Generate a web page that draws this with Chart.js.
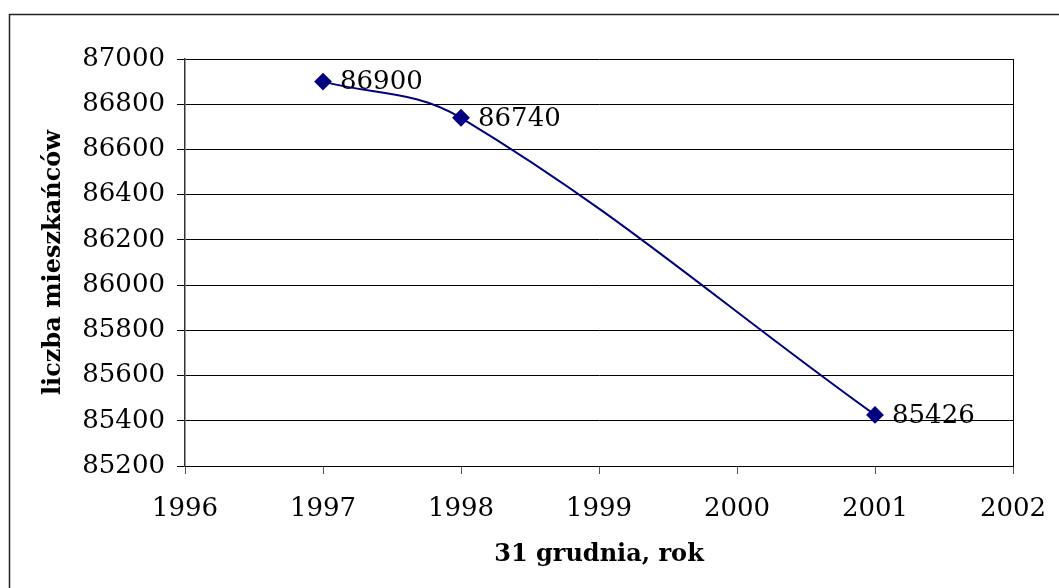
<!DOCTYPE html>
<html>
<head>
<meta charset="utf-8">
<script src="https://cdn.jsdelivr.net/npm/chart.js@4.4.1/dist/chart.umd.min.js"></script>
<style>
  html, body { margin: 0; padding: 0; background: #fff; }
  #wrap { width: 1059px; height: 588px; }
</style>
</head>
<body>
<div id="wrap"><canvas id="popChart" width="1059" height="588"></canvas></div>
<script>
// data
const years = [1997, 1998, 2001];
const residents = [86900, 86740, 85426];
const xTicks = [1996, 1997, 1998, 1999, 2000, 2001, 2002];
const yTicks = [85200, 85400, 85600, 85800, 86000, 86200, 86400, 86600, 86800, 87000];

const serif = "'DejaVu Serif', 'Liberation Serif', serif";

// frame round the whole picture + right edge of the plot area
const framePlugin = {
    id: 'frame',
    beforeDraw(chart) {
        const ctx = chart.ctx;
        ctx.save();
        ctx.strokeStyle = '#222';
        ctx.lineWidth = 1.5;
        ctx.strokeRect(9.5, 14.5, 1200, 700);
        ctx.restore();
    },
    afterDraw(chart) {
        const a = chart.chartArea;
        const ctx = chart.ctx;
        ctx.save();
        ctx.strokeStyle = '#000';
        ctx.lineWidth = 1;
        ctx.beginPath();
        ctx.moveTo(Math.round(a.right) + 0.5, a.top);
        ctx.lineTo(Math.round(a.right) + 0.5, a.bottom);
        ctx.stroke();
        ctx.restore();
    }
};

// value labels to the right of each marker
const valueLabels = {
    id: 'valueLabels',
    afterDatasetsDraw(chart) {
        const ctx = chart.ctx;
        const meta = chart.getDatasetMeta(0);
        ctx.save();
        ctx.font = '26px ' + serif;
        ctx.fillStyle = '#000';
        ctx.textAlign = 'left';
        ctx.textBaseline = 'middle';
        meta.data.forEach((pt, i) => {
            ctx.fillText(String(residents[i]), pt.x + 17, pt.y + 1);
        });
        ctx.restore();
    }
};

const points = years.map((y, i) => ({ x: y, y: residents[i] }));

new Chart(document.getElementById('popChart'), {
    type: 'line',
    data: {
        datasets: [{
            data: points,
            borderColor: '#000080',
            backgroundColor: '#000080',
            borderWidth: 2,
            tension: 0.38,
            pointStyle: 'rectRot',
            pointRadius: 7.5,
            pointHoverRadius: 7.5,
            fill: false
        }]
    },
    options: {
        responsive: false,
        animation: false,
        devicePixelRatio: 1,
        layout: { padding: { top: 59, right: 46, left: 37, bottom: 0 } },
        plugins: {
            legend: { display: false },
            tooltip: { enabled: false }
        },
        scales: {
            x: {
                type: 'linear',
                min: 1996,
                max: 2002,
                afterBuildTicks: axis => { axis.ticks = xTicks.map(v => ({ value: v })); },
                afterFit: axis => {
                    axis.height = 122;
                    axis.paddingLeft = 0;
                    axis.paddingRight = 0;
                },
                ticks: {
                    callback: v => String(v),
                    color: '#000',
                    font: { family: serif, size: 26 },
                    padding: 20,
                    maxRotation: 0
                },
                grid: {
                    drawOnChartArea: false,
                    drawTicks: true,
                    tickLength: 8,
                    color: '#555'
                },
                border: { color: '#000', width: 1 },
                title: {
                    display: true,
                    text: '31 grudnia, rok',
                    color: '#000',
                    font: { family: serif, size: 24, weight: 'bold' },
                    padding: { top: 0, bottom: 19 }
                }
            },
            y: {
                min: 85200,
                max: 87000,
                afterBuildTicks: axis => { axis.ticks = yTicks.map(v => ({ value: v })); },
                afterFit: axis => {
                    axis.width = 148;
                    axis.paddingTop = 0;
                    axis.paddingBottom = 0;
                },
                ticks: {
                    callback: v => String(v),
                    color: '#000',
                    font: { family: serif, size: 26 },
                    padding: 12
                },
                grid: {
                    color: '#000',
                    lineWidth: 1,
                    drawTicks: true,
                    tickLength: 8
                },
                border: { color: '#333', width: 1.5 },
                title: {
                    display: true,
                    text: 'liczba mieszkańców',
                    color: '#000',
                    font: { family: serif, size: 24, weight: 'bold' },
                    padding: { top: 2, bottom: 0 }
                }
            }
        }
    },
    plugins: [framePlugin, valueLabels]
});
</script>
</body>
</html>
